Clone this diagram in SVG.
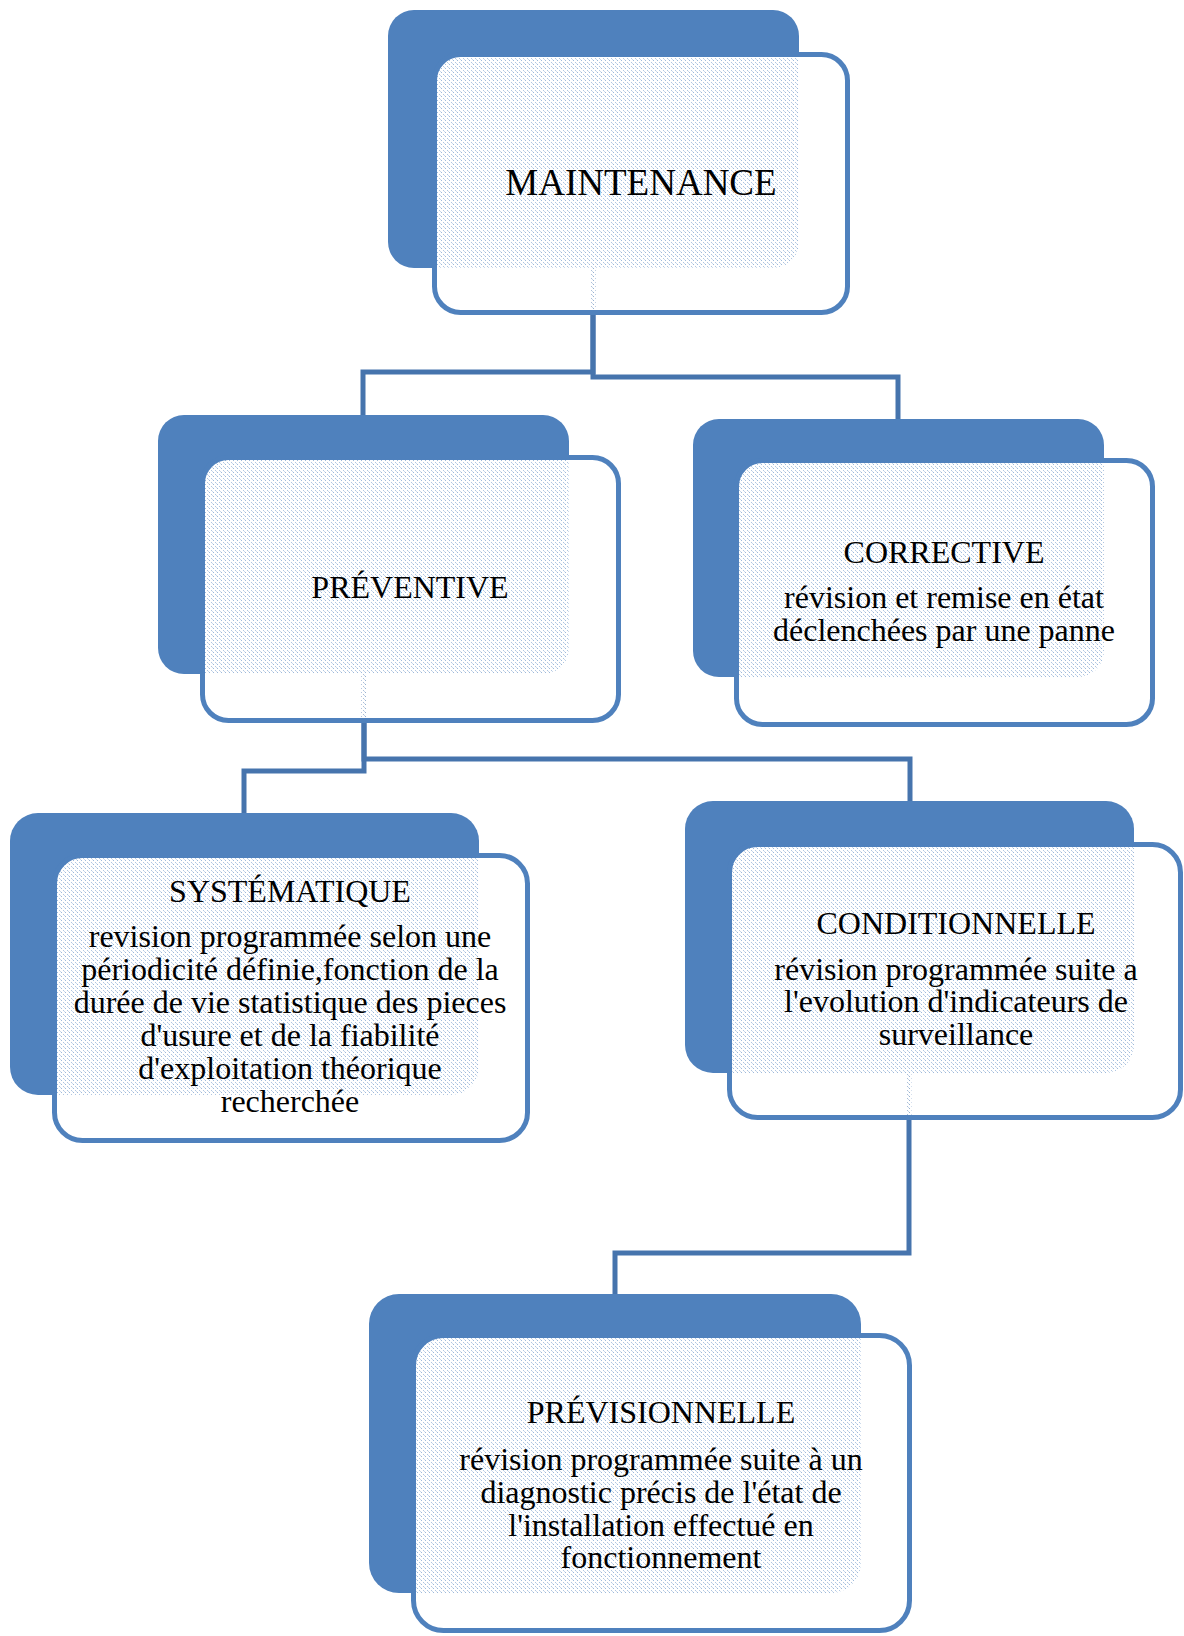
<svg xmlns="http://www.w3.org/2000/svg" width="1184" height="1636" viewBox="0 0 1184 1636">
<style>
.back{fill:#4f81bd}
.front{fill:url(#dither);stroke:#4f81bd;stroke-width:5}
.conn{fill:none;stroke:#4674ad;stroke-width:5;stroke-linejoin:miter}
text{font-family:"Liberation Serif","Times New Roman",serif;fill:#000;text-anchor:middle}
.t{font-size:32px}
.big{font-size:37px}
</style>
<defs>
<pattern id="dither" patternUnits="userSpaceOnUse" x="0" y="0" width="4" height="4">
<path d="M0 0h4v4h-4z M1 0h1v1h-1z M3 2h1v1h-1z M0 3h1v1h-1z" fill="#fff" fill-rule="evenodd"/>
<rect x="1" y="0" width="1" height="1" fill="#fff" fill-opacity="0.45"/>
<rect x="3" y="2" width="1" height="1" fill="#fff" fill-opacity="0.55"/>
<rect x="0" y="3" width="1" height="1" fill="#fff" fill-opacity="0.7"/>
</pattern>
</defs>
<g id="connectors">
<path class="conn" d="M593 268V372H363V415"/>
<path class="conn" d="M593 268V377H898V419"/>
<path class="conn" d="M364 674V771H244V813"/>
<path class="conn" d="M364 674V759H910V801"/>
<path class="conn" d="M909 1073V1253H615V1294"/>
</g>
<g id="maintenance">
<rect class="back" x="388" y="10" width="411" height="258" rx="26"/>
<rect class="front" x="434.5" y="54.5" width="413" height="258" rx="26"/>
<text class="big" x="641" y="195">MAINTENANCE</text>
</g>
<g id="preventive">
<rect class="back" x="158" y="415" width="411" height="259" rx="26"/>
<rect class="front" x="202.5" y="457.5" width="416" height="263" rx="26"/>
<text class="t" x="410" y="598">PRÉVENTIVE</text>
</g>
<g id="corrective">
<rect class="back" x="693" y="419" width="411" height="258" rx="26"/>
<rect class="front" x="736.5" y="460.5" width="416" height="264" rx="26"/>
<text class="t" x="944" y="563">CORRECTIVE</text>
<text class="t" x="944" y="608">révision et remise en état</text>
<text class="t" x="944" y="641">déclenchées par une panne</text>
</g>
<g id="systematique">
<rect class="back" x="10" y="813" width="469" height="282" rx="28"/>
<rect class="front" x="54.5" y="855.5" width="473" height="285" rx="28"/>
<text class="t" x="290" y="902">SYSTÉMATIQUE</text>
<text class="t" x="290" y="947">revision programmée selon une</text>
<text class="t" x="290" y="980">périodicité définie,fonction de la</text>
<text class="t" x="290" y="1013">durée de vie statistique des pieces</text>
<text class="t" x="290" y="1046">d'usure et de la fiabilité</text>
<text class="t" x="290" y="1079">d'exploitation théorique</text>
<text class="t" x="290" y="1112">recherchée</text>
</g>
<g id="conditionnelle">
<rect class="back" x="685" y="801" width="449" height="272" rx="28"/>
<rect class="front" x="729.5" y="844.5" width="451" height="273" rx="28"/>
<text class="t" x="956" y="934">CONDITIONNELLE</text>
<text class="t" x="956" y="980">révision programmée suite a</text>
<text class="t" x="956" y="1012">l'evolution d'indicateurs de</text>
<text class="t" x="956" y="1045">surveillance</text>
</g>
<g id="previsionnelle">
<rect class="back" x="369" y="1294" width="492" height="299" rx="30"/>
<rect class="front" x="413.5" y="1335.5" width="496" height="295" rx="30"/>
<text class="t" x="661" y="1423">PRÉVISIONNELLE</text>
<text class="t" x="661" y="1470">révision programmée suite à un</text>
<text class="t" x="661" y="1503">diagnostic précis de l'état de</text>
<text class="t" x="661" y="1536">l'installation effectué en</text>
<text class="t" x="661" y="1568">fonctionnement</text>
</g>
</svg>
